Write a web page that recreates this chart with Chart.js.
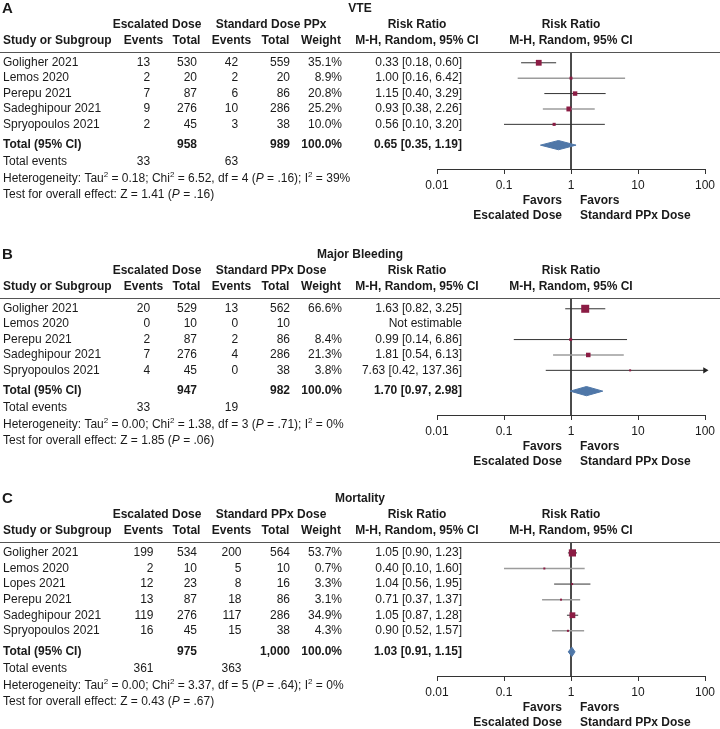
<!DOCTYPE html>
<html>
<head>
<meta charset="utf-8">
<script src="https://cdn.jsdelivr.net/npm/chart.js@4.4.1/dist/chart.umd.min.js"></script>
<style>
  body { margin: 0; background: #fff; }
  #page { position: relative; width: 720px; height: 729px; }
  canvas { position: absolute; left: 0; }
</style>
</head>
<body>
<div id="page">
  <canvas id="vte" width="720" height="245" style="top:0"></canvas>
  <canvas id="bleed" width="720" height="245" style="top:245px"></canvas>
  <canvas id="mort" width="720" height="239" style="top:490px"></canvas>
</div>
<script>
// shared risk ratio axis
const tickValues = [0.01, 0.1, 1, 10, 100];
const tickLabels = ['0.01', '0.1', '1', '10', '100'];
const X_MIN = 0.01, X_MAX = 100;

// A: VTE
const vteStudies = ['Goligher 2021', 'Lemos 2020', 'Perepu 2021', 'Sadeghipour 2021', 'Spryopoulos 2021'];
const vteEscEvents = [13, 2, 7, 9, 2];
const vteEscTotal = [530, 20, 87, 276, 45];
const vteStdEvents = [42, 2, 6, 10, 3];
const vteStdTotal = [559, 20, 86, 286, 38];
const vteWeight = [35.1, 8.9, 20.8, 25.2, 10.0];
const vteRR = [0.33, 1.00, 1.15, 0.93, 0.56];
const vteLow = [0.18, 0.16, 0.40, 0.38, 0.10];
const vteHigh = [0.60, 6.42, 3.29, 2.26, 3.20];
const vtePooled = [0.65, 0.35, 1.19];
const vteHet = [0.18, 6.52, 4, 0.16, 39];   // tau2, chi2, df, P, I2
const vteTest = [1.41, 0.16];               // Z, P

// B: major bleeding
const bleedStudies = ['Goligher 2021', 'Lemos 2020', 'Perepu 2021', 'Sadeghipour 2021', 'Spryopoulos 2021'];
const bleedEscEvents = [20, 0, 2, 7, 4];
const bleedEscTotal = [529, 10, 87, 276, 45];
const bleedStdEvents = [13, 0, 2, 4, 0];
const bleedStdTotal = [562, 10, 86, 286, 38];
const bleedWeight = [66.6, null, 8.4, 21.3, 3.8];
const bleedRR = [1.63, null, 0.99, 1.81, 7.63];
const bleedLow = [0.82, null, 0.14, 0.54, 0.42];
const bleedHigh = [3.25, null, 6.86, 6.13, 137.36];
const bleedPooled = [1.70, 0.97, 2.98];
const bleedHet = [0.00, 1.38, 3, 0.71, 0];
const bleedTest = [1.85, 0.06];

// C: mortality
const mortStudies = ['Goligher 2021', 'Lemos 2020', 'Lopes 2021', 'Perepu 2021', 'Sadeghipour 2021', 'Spryopoulos 2021'];
const mortEscEvents = [199, 2, 12, 13, 119, 16];
const mortEscTotal = [534, 10, 23, 87, 276, 45];
const mortStdEvents = [200, 5, 8, 18, 117, 15];
const mortStdTotal = [564, 10, 16, 86, 286, 38];
const mortWeight = [53.7, 0.7, 3.3, 3.1, 34.9, 4.3];
const mortRR = [1.05, 0.40, 1.04, 0.71, 1.05, 0.90];
const mortLow = [0.90, 0.10, 0.56, 0.37, 0.87, 0.52];
const mortHigh = [1.23, 1.60, 1.95, 1.37, 1.28, 1.57];
const mortPooled = [1.03, 0.91, 1.15];
const mortHet = [0.00, 3.37, 5, 0.64, 0];
const mortTest = [0.43, 0.67];

const FAMILY = '"Liberation Sans", Arial, Helvetica, sans-serif';
Chart.defaults.font.family = FAMILY;
const INK = '#1a1a1a';
const font = (size, style) => (style ? style + ' ' : '') + size + 'px ' + FAMILY;
const BOLD = font(12, 'bold'), REG = font(12);

// row layout in y units (study k sits at y = k)
const ROW_MIN = 0.3;
const TOTAL_GAP = 1.35;
const AXIS_GAP = 2.9;
const DIAMOND_H = 0.3;

// table column anchors (px)
const COL = { study: 3, escEv: 143.5, escTot: 197, stdEv: 231.5, stdTot: 290, weight: 342, rr: 462, rrHead: 417 };

const SQUARE = '#8b1c44', DIAMOND = '#4f77a8';
const TONE = { d: ['#333', 1], g: ['#9c9c9c', 1.5] };

const sum = a => a.reduce((s, v) => s + v, 0);
const fmtN = v => v.toLocaleString('en-US');
const fmtP = v => v.toFixed(2).replace(/^0/, '');
const ci = (e, l, h) => e.toFixed(2) + ' [' + l.toFixed(2) + ', ' + h.toFixed(2) + ']';

// text with ^2 superscripts and *P* italics
function rich(ctx, str, x, y) {
  let cx = x;
  ctx.textAlign = 'left';
  str.split(/(\^2|\*P\*)/).forEach(s => {
    if (!s) return;
    let t = s, dy = 0;
    ctx.font = REG;
    if (s === '^2') { t = '2'; dy = -4; ctx.font = font(8); }
    else if (s === '*P*') { t = 'P'; ctx.font = font(12, 'italic'); }
    ctx.fillText(t, cx, y + dy);
    cx += ctx.measureText(t).width;
  });
}

function tablePlugin(p) {
  return {
    id: 'forestTable',
    afterDraw(chart) {
      const ctx = chart.ctx, area = chart.chartArea;
      const ys = chart.scales.y, xs = chart.scales.x;
      const n = p.studies.length;
      const top = area.top, bottom = area.bottom;
      const x1 = xs.getPixelForValue(1);
      const put = (s, x, y, align, f) => { ctx.font = f; ctx.textAlign = align; ctx.fillText(String(s), x, y); };

      ctx.save();
      ctx.textBaseline = 'middle';
      ctx.fillStyle = INK;

      put(p.letter, 2, top - 43, 'left', font(15, 'bold'));
      put(p.title, 360, top - 43, 'center', BOLD);

      const h1 = top - 27, h2 = top - 11;
      put('Escalated Dose', 157, h1, 'center', BOLD);
      put(p.stdHeader, 271, h1, 'center', BOLD);
      put('Risk Ratio', COL.rrHead, h1, 'center', BOLD);
      put('Risk Ratio', x1, h1, 'center', BOLD);
      put('Study or Subgroup', COL.study, h2, 'left', BOLD);
      put('Events', COL.escEv, h2, 'center', BOLD);
      put('Total', 186.5, h2, 'center', BOLD);
      put('Events', COL.stdEv, h2, 'center', BOLD);
      put('Total', 275.5, h2, 'center', BOLD);
      put('Weight', 321, h2, 'center', BOLD);
      put('M-H, Random, 95% CI', COL.rrHead, h2, 'center', BOLD);
      put('M-H, Random, 95% CI', x1, h2, 'center', BOLD);

      ctx.strokeStyle = '#555';
      ctx.lineWidth = 1;
      ctx.beginPath();
      ctx.moveTo(0, Math.round(top) + 0.5);
      ctx.lineTo(chart.width, Math.round(top) + 0.5);
      ctx.stroke();

      const escEvSum = sum(p.escEvents), stdEvSum = sum(p.stdEvents);
      ctx.font = REG;
      const rightOf = (c, vals) => c + Math.max(...vals.map(v => ctx.measureText(String(v)).width)) / 2;
      const escEvR = rightOf(COL.escEv, p.escEvents.concat(escEvSum));
      const stdEvR = rightOf(COL.stdEv, p.stdEvents.concat(stdEvSum));

      p.studies.forEach((s, i) => {
        const y = ys.getPixelForValue(i + 1);
        put(s, COL.study, y, 'left', REG);
        put(p.escEvents[i], escEvR, y, 'right', REG);
        put(p.escTotal[i], COL.escTot, y, 'right', REG);
        put(p.stdEvents[i], stdEvR, y, 'right', REG);
        put(p.stdTotal[i], COL.stdTot, y, 'right', REG);
        if (p.weight[i] != null) put(p.weight[i].toFixed(1) + '%', COL.weight, y, 'right', REG);
        put(p.rr[i] == null ? 'Not estimable' : ci(p.rr[i], p.lo[i], p.hi[i]), COL.rr, y, 'right', REG);
      });

      const yt = ys.getPixelForValue(n + TOTAL_GAP);
      put('Total (95% CI)', COL.study, yt, 'left', BOLD);
      put(fmtN(sum(p.escTotal)), COL.escTot, yt, 'right', BOLD);
      put(fmtN(sum(p.stdTotal)), COL.stdTot, yt, 'right', BOLD);
      put('100.0%', COL.weight, yt, 'right', BOLD);
      put(ci(p.pooled[0], p.pooled[1], p.pooled[2]), COL.rr, yt, 'right', BOLD);

      put('Total events', COL.study, yt + 17, 'left', REG);
      put(escEvSum, escEvR, yt + 17, 'right', REG);
      put(stdEvSum, stdEvR, yt + 17, 'right', REG);

      const h = p.het;
      rich(ctx, 'Heterogeneity: Tau^2 = ' + h[0].toFixed(2) + '; Chi^2 = ' + h[1].toFixed(2) +
        ', df = ' + h[2] + ' (*P* = ' + fmtP(h[3]) + '); I^2 = ' + h[4] + '%', COL.study, yt + 34);
      rich(ctx, 'Test for overall effect: Z = ' + p.z[0].toFixed(2) + ' (*P* = ' + fmtP(p.z[1]) + ')', COL.study, yt + 50);

      put('Favors', x1 - 9, bottom + 32, 'right', BOLD);
      put('Escalated Dose', x1 - 9, bottom + 47, 'right', BOLD);
      put('Favors', x1 + 9, bottom + 32, 'left', BOLD);
      put('Standard PPx Dose', x1 + 9, bottom + 47, 'left', BOLD);
      ctx.restore();
    }
  };
}

function buildChart(p) {
  const canvas = document.getElementById(p.canvas);
  const n = p.studies.length;
  const yMax = n + AXIS_GAP;
  const totalRow = n + TOTAL_GAP;
  const datasets = [];

  // line of no effect
  datasets.push({
    type: 'line', data: [{ x: 1, y: ROW_MIN }, { x: 1, y: yMax }],
    borderColor: '#333', borderWidth: 1, pointRadius: 0, order: 4
  });

  // confidence intervals
  p.rr.forEach((v, i) => {
    if (v == null) return;
    const tone = TONE[p.tones[i]];
    datasets.push({
      type: 'line', data: [{ x: p.lo[i], y: i + 1 }, { x: Math.min(p.hi[i], X_MAX), y: i + 1 }],
      borderColor: tone[0], borderWidth: tone[1], pointRadius: 0, order: 3
    });
  });

  // pooled estimate diamond
  const [e, l, u] = p.pooled;
  datasets.push({
    type: 'line',
    data: [{ x: l, y: totalRow }, { x: e, y: totalRow - DIAMOND_H }, { x: u, y: totalRow },
           { x: e, y: totalRow + DIAMOND_H }, { x: l, y: totalRow }],
    borderColor: DIAMOND, backgroundColor: DIAMOND, borderWidth: 1, fill: 'shape',
    pointRadius: 0, tension: 0, order: 2
  });

  // arrows for intervals running past the axis
  const arrows = [];
  p.hi.forEach((v, i) => { if (v != null && v > X_MAX) arrows.push({ x: X_MAX, y: i + 1 }); });
  if (arrows.length) {
    datasets.push({
      type: 'scatter', data: arrows, pointStyle: 'triangle', rotation: 90,
      pointRadius: 3.5, backgroundColor: '#222', borderColor: '#222', borderWidth: 0,
      clip: false, order: 1
    });
  }

  // study squares sized by weight
  const pts = [], radii = [];
  p.rr.forEach((v, i) => {
    if (v == null) return;
    pts.push({ x: v, y: i + 1 });
    radii.push(Math.max(2, 0.98 * Math.sqrt(p.weight[i])) / Math.SQRT2);
  });
  datasets.push({
    type: 'scatter', data: pts, pointStyle: 'rect', pointRadius: radii,
    backgroundColor: SQUARE, borderColor: SQUARE, borderWidth: 0, order: 0
  });

  return new Chart(canvas, {
    type: 'scatter',
    data: { datasets },
    options: {
      responsive: false,
      animation: false,
      events: [],
      layout: { padding: { left: 437, right: 15, top: p.lineY, bottom: canvas.height - p.axisY - 20 } },
      plugins: { legend: { display: false }, tooltip: { enabled: false } },
      scales: {
        x: {
          type: 'logarithmic', min: X_MIN, max: X_MAX,
          afterBuildTicks: s => { s.ticks = tickValues.map(v => ({ value: v })); },
          afterFit: s => { s.height = 20; },
          grid: { drawOnChartArea: false, drawTicks: true, tickLength: 5, color: '#333', tickColor: '#333' },
          border: { display: true, color: '#333', width: 1 },
          ticks: { color: INK, font: { size: 12 }, padding: 4, maxRotation: 0, autoSkip: false,
                   callback: (v, i) => tickLabels[i] }
        },
        y: { type: 'linear', display: false, reverse: true, min: ROW_MIN, max: yMax }
      }
    },
    plugins: [tablePlugin(p)]
  });
}

buildChart({
  canvas: 'vte', letter: 'A', title: 'VTE', stdHeader: 'Standard Dose PPx',
  studies: vteStudies, escEvents: vteEscEvents, escTotal: vteEscTotal, stdEvents: vteStdEvents,
  stdTotal: vteStdTotal, weight: vteWeight, rr: vteRR, lo: vteLow, hi: vteHigh,
  pooled: vtePooled, het: vteHet, z: vteTest,
  lineY: 52, axisY: 169, tones: ['d', 'g', 'd', 'g', 'd']
});
buildChart({
  canvas: 'bleed', letter: 'B', title: 'Major Bleeding', stdHeader: 'Standard PPx Dose',
  studies: bleedStudies, escEvents: bleedEscEvents, escTotal: bleedEscTotal, stdEvents: bleedStdEvents,
  stdTotal: bleedStdTotal, weight: bleedWeight, rr: bleedRR, lo: bleedLow, hi: bleedHigh,
  pooled: bleedPooled, het: bleedHet, z: bleedTest,
  lineY: 53, axisY: 170, tones: ['d', 'd', 'd', 'g', 'd']
});
buildChart({
  canvas: 'mort', letter: 'C', title: 'Mortality', stdHeader: 'Standard PPx Dose',
  studies: mortStudies, escEvents: mortEscEvents, escTotal: mortEscTotal, stdEvents: mortStdEvents,
  stdTotal: mortStdTotal, weight: mortWeight, rr: mortRR, lo: mortLow, hi: mortHigh,
  pooled: mortPooled, het: mortHet, z: mortTest,
  lineY: 52, axisY: 186, tones: ['d', 'g', 'd', 'g', 'd', 'g']
});
</script>
</body>
</html>
